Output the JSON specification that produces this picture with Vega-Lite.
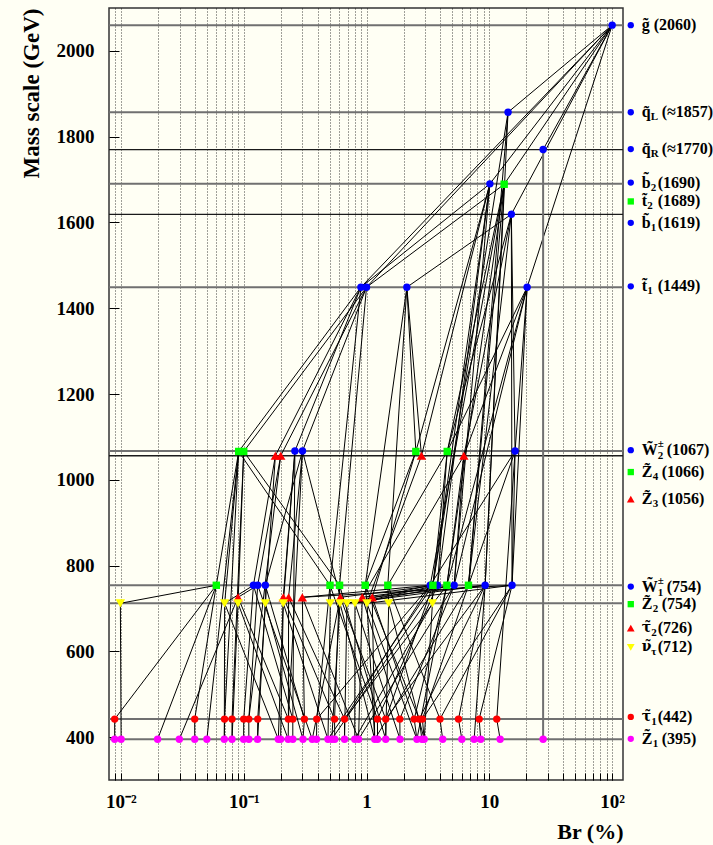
{
  "$schema": "https://vega.github.io/schema/vega-lite/v6.json",
  "width": 514,
  "height": 772,
  "autosize": "none",
  "padding": {"left": 109, "top": 8, "right": 90, "bottom": 65},
  "background": "#fffff4",
  "config": {
    "view": {"stroke": "#333333", "strokeWidth": 1.5},
    "font": "Liberation Serif"
  },
  "datasets": {
    "levels": [
      {"m": 2060}, {"m": 1857}, {"m": 1770}, {"m": 1690}, {"m": 1619}, {"m": 1449},
      {"m": 1067}, {"m": 1056}, {"m": 754}, {"m": 712}, {"m": 442}, {"m": 395}
    ],
    "pts": [
      {"p": "g", "br": 100, "m": 2060},
      {"p": "qL", "br": 14.2, "m": 1857},
      {"p": "qR", "br": 27.4, "m": 1770},
      {"p": "b2", "br": 10.1, "m": 1690},
      {"p": "t2", "br": 13.2, "m": 1689},
      {"p": "b1", "br": 15.1, "m": 1619},
      {"p": "t1", "br": 0.90, "m": 1449},
      {"p": "t1", "br": 1.0, "m": 1449},
      {"p": "t1", "br": 2.13, "m": 1449},
      {"p": "t1", "br": 20.3, "m": 1449},
      {"p": "W2", "br": 0.261, "m": 1067},
      {"p": "W2", "br": 0.301, "m": 1067},
      {"p": "W2", "br": 16.2, "m": 1067},
      {"p": "Z4", "br": 0.091, "m": 1066},
      {"p": "Z4", "br": 0.100, "m": 1066},
      {"p": "Z4", "br": 2.52, "m": 1066},
      {"p": "Z4", "br": 4.54, "m": 1066},
      {"p": "Z3", "br": 0.181, "m": 1056},
      {"p": "Z3", "br": 0.200, "m": 1056},
      {"p": "Z3", "br": 2.80, "m": 1056},
      {"p": "Z3", "br": 6.20, "m": 1056},
      {"p": "W1", "br": 0.120, "m": 754},
      {"p": "W1", "br": 0.130, "m": 754},
      {"p": "W1", "br": 0.150, "m": 754},
      {"p": "W1", "br": 3.30, "m": 754},
      {"p": "W1", "br": 3.78, "m": 754},
      {"p": "W1", "br": 5.17, "m": 754},
      {"p": "W1", "br": 9.24, "m": 754},
      {"p": "W1", "br": 15.3, "m": 754},
      {"p": "Z2", "br": 0.0598, "m": 754},
      {"p": "Z2", "br": 0.504, "m": 754},
      {"p": "Z2", "br": 0.603, "m": 754},
      {"p": "Z2", "br": 0.976, "m": 754},
      {"p": "Z2", "br": 1.49, "m": 754},
      {"p": "Z2", "br": 3.47, "m": 754},
      {"p": "Z2", "br": 4.51, "m": 754},
      {"p": "Z2", "br": 6.76, "m": 754},
      {"p": "tau2", "br": 0.0899, "m": 726},
      {"p": "tau2", "br": 0.210, "m": 726},
      {"p": "tau2", "br": 0.232, "m": 726},
      {"p": "tau2", "br": 0.300, "m": 726},
      {"p": "tau2", "br": 0.611, "m": 726},
      {"p": "tau2", "br": 0.923, "m": 726},
      {"p": "tau2", "br": 1.113, "m": 726},
      {"p": "nutau", "br": 0.0099, "m": 712},
      {"p": "nutau", "br": 0.0699, "m": 712},
      {"p": "nutau", "br": 0.0899, "m": 712},
      {"p": "nutau", "br": 0.150, "m": 712},
      {"p": "nutau", "br": 0.210, "m": 712},
      {"p": "nutau", "br": 0.507, "m": 712},
      {"p": "nutau", "br": 0.608, "m": 712},
      {"p": "nutau", "br": 0.693, "m": 712},
      {"p": "nutau", "br": 0.805, "m": 712},
      {"p": "nutau", "br": 1.008, "m": 712},
      {"p": "nutau", "br": 1.516, "m": 712},
      {"p": "nutau", "br": 3.44, "m": 712},
      {"p": "tau1", "br": 0.0089, "m": 442},
      {"p": "tau1", "br": 0.0399, "m": 442},
      {"p": "tau1", "br": 0.0698, "m": 442},
      {"p": "tau1", "br": 0.0803, "m": 442},
      {"p": "tau1", "br": 0.100, "m": 442},
      {"p": "tau1", "br": 0.110, "m": 442},
      {"p": "tau1", "br": 0.130, "m": 442},
      {"p": "tau1", "br": 0.231, "m": 442},
      {"p": "tau1", "br": 0.251, "m": 442},
      {"p": "tau1", "br": 0.312, "m": 442},
      {"p": "tau1", "br": 0.393, "m": 442},
      {"p": "tau1", "br": 0.549, "m": 442},
      {"p": "tau1", "br": 0.662, "m": 442},
      {"p": "tau1", "br": 1.227, "m": 442},
      {"p": "tau1", "br": 1.433, "m": 442},
      {"p": "tau1", "br": 1.866, "m": 442},
      {"p": "tau1", "br": 2.444, "m": 442},
      {"p": "tau1", "br": 2.685, "m": 442},
      {"p": "tau1", "br": 2.85, "m": 442},
      {"p": "tau1", "br": 3.963, "m": 442},
      {"p": "tau1", "br": 5.607, "m": 442},
      {"p": "tau1", "br": 8.26, "m": 442},
      {"p": "tau1", "br": 11.49, "m": 442},
      {"p": "Z1", "br": 0.0089, "m": 395},
      {"p": "Z1", "br": 0.01004, "m": 395},
      {"p": "Z1", "br": 0.0199, "m": 395},
      {"p": "Z1", "br": 0.0299, "m": 395},
      {"p": "Z1", "br": 0.0399, "m": 395},
      {"p": "Z1", "br": 0.0501, "m": 395},
      {"p": "Z1", "br": 0.0695, "m": 395},
      {"p": "Z1", "br": 0.0803, "m": 395},
      {"p": "Z1", "br": 0.0998, "m": 395},
      {"p": "Z1", "br": 0.1101, "m": 395},
      {"p": "Z1", "br": 0.1297, "m": 395},
      {"p": "Z1", "br": 0.1913, "m": 395},
      {"p": "Z1", "br": 0.1996, "m": 395},
      {"p": "Z1", "br": 0.2303, "m": 395},
      {"p": "Z1", "br": 0.2510, "m": 395},
      {"p": "Z1", "br": 0.3038, "m": 395},
      {"p": "Z1", "br": 0.3616, "m": 395},
      {"p": "Z1", "br": 0.3918, "m": 395},
      {"p": "Z1", "br": 0.4853, "m": 395},
      {"p": "Z1", "br": 0.521, "m": 395},
      {"p": "Z1", "br": 0.551, "m": 395},
      {"p": "Z1", "br": 0.662, "m": 395},
      {"p": "Z1", "br": 0.8017, "m": 395},
      {"p": "Z1", "br": 0.861, "m": 395},
      {"p": "Z1", "br": 1.166, "m": 395},
      {"p": "Z1", "br": 1.229, "m": 395},
      {"p": "Z1", "br": 1.433, "m": 395},
      {"p": "Z1", "br": 1.874, "m": 395},
      {"p": "Z1", "br": 2.571, "m": 395},
      {"p": "Z1", "br": 2.824, "m": 395},
      {"p": "Z1", "br": 2.948, "m": 395},
      {"p": "Z1", "br": 4.169, "m": 395},
      {"p": "Z1", "br": 5.973, "m": 395},
      {"p": "Z1", "br": 7.52, "m": 395},
      {"p": "Z1", "br": 8.50, "m": 395},
      {"p": "Z1", "br": 12.24, "m": 395},
      {"p": "Z1", "br": 27.4, "m": 395}
    ],
    "links": [
      {"a": 100, "am": 2060, "b": 14.2, "bm": 1857},
      {"a": 100, "am": 2060, "b": 27.4, "bm": 1770},
      {"a": 100, "am": 2060, "b": 10.1, "bm": 1690},
      {"a": 100, "am": 2060, "b": 13.2, "bm": 1689},
      {"a": 100, "am": 2060, "b": 15.1, "bm": 1619},
      {"a": 100, "am": 2060, "b": 20.3, "bm": 1449},
      {"a": 100, "am": 2060, "b": 1.0, "bm": 1449},
      {"a": 100, "am": 2060, "b": 0.90, "bm": 1449},
      {"a": 10.1, "am": 1690, "b": 0.90, "bm": 1449},
      {"a": 13.2, "am": 1689, "b": 1.0, "bm": 1449},
      {"a": 15.1, "am": 1619, "b": 2.13, "bm": 1449},
      {"a": 0.90, "am": 1449, "b": 0.091, "bm": 1066},
      {"a": 0.90, "am": 1449, "b": 0.181, "bm": 1056},
      {"a": 0.90, "am": 1449, "b": 0.261, "bm": 1067},
      {"a": 1.0, "am": 1449, "b": 0.100, "bm": 1066},
      {"a": 1.0, "am": 1449, "b": 0.200, "bm": 1056},
      {"a": 1.0, "am": 1449, "b": 0.301, "bm": 1067},
      {"a": 2.13, "am": 1449, "b": 2.52, "bm": 1066},
      {"a": 2.13, "am": 1449, "b": 2.80, "bm": 1056},
      {"a": 20.3, "am": 1449, "b": 16.2, "bm": 1067},
      {"a": 20.3, "am": 1449, "b": 4.54, "bm": 1066},
      {"a": 20.3, "am": 1449, "b": 6.20, "bm": 1056},
      {"a": 13.2, "am": 1689, "b": 4.54, "bm": 1066},
      {"a": 15.1, "am": 1619, "b": 6.20, "bm": 1056},
      {"a": 10.1, "am": 1690, "b": 2.52, "bm": 1066},
      {"a": 10.1, "am": 1690, "b": 2.80, "bm": 1056},
      {"a": 15.1, "am": 1619, "b": 16.2, "bm": 1067},
      {"a": 15.1, "am": 1619, "b": 4.54, "bm": 1066},
      {"a": 0.181, "am": 1056, "b": 0.120, "bm": 754},
      {"a": 0.200, "am": 1056, "b": 0.130, "bm": 754},
      {"a": 0.301, "am": 1067, "b": 0.150, "bm": 754},
      {"a": 13.2, "am": 1689, "b": 3.30, "bm": 754},
      {"a": 10.1, "am": 1690, "b": 3.78, "bm": 754},
      {"a": 6.20, "am": 1056, "b": 5.17, "bm": 754},
      {"a": 14.2, "am": 1857, "b": 9.24, "bm": 754},
      {"a": 16.2, "am": 1067, "b": 15.3, "bm": 754},
      {"a": 15.1, "am": 1619, "b": 15.3, "bm": 754},
      {"a": 10.1, "am": 1690, "b": 5.17, "bm": 754},
      {"a": 13.2, "am": 1689, "b": 9.24, "bm": 754},
      {"a": 20.3, "am": 1449, "b": 5.17, "bm": 754},
      {"a": 20.3, "am": 1449, "b": 15.3, "bm": 754},
      {"a": 16.2, "am": 1067, "b": 3.30, "bm": 754},
      {"a": 4.54, "am": 1066, "b": 3.78, "bm": 754},
      {"a": 0.091, "am": 1066, "b": 0.0598, "bm": 754},
      {"a": 0.90, "am": 1449, "b": 0.504, "bm": 754},
      {"a": 1.0, "am": 1449, "b": 0.603, "bm": 754},
      {"a": 2.13, "am": 1449, "b": 0.976, "bm": 754},
      {"a": 2.13, "am": 1449, "b": 1.49, "bm": 754},
      {"a": 14.2, "am": 1857, "b": 3.47, "bm": 754},
      {"a": 20.3, "am": 1449, "b": 4.51, "bm": 754},
      {"a": 15.1, "am": 1619, "b": 6.76, "bm": 754},
      {"a": 13.2, "am": 1689, "b": 4.51, "bm": 754},
      {"a": 13.2, "am": 1689, "b": 6.76, "bm": 754},
      {"a": 10.1, "am": 1690, "b": 3.47, "bm": 754},
      {"a": 14.2, "am": 1857, "b": 6.76, "bm": 754},
      {"a": 0.091, "am": 1066, "b": 0.504, "bm": 754},
      {"a": 0.100, "am": 1066, "b": 0.603, "bm": 754},
      {"a": 2.52, "am": 1066, "b": 0.976, "bm": 754},
      {"a": 6.20, "am": 1056, "b": 1.49, "bm": 754},
      {"a": 4.54, "am": 1066, "b": 3.47, "bm": 754},
      {"a": 6.20, "am": 1056, "b": 4.51, "bm": 754},
      {"a": 16.2, "am": 1067, "b": 6.76, "bm": 754},
      {"a": 0.130, "am": 754, "b": 0.0899, "bm": 726},
      {"a": 0.261, "am": 1067, "b": 0.210, "bm": 726},
      {"a": 0.301, "am": 1067, "b": 0.232, "bm": 726},
      {"a": 3.30, "am": 754, "b": 0.300, "bm": 726},
      {"a": 3.78, "am": 754, "b": 0.611, "bm": 726},
      {"a": 5.17, "am": 754, "b": 0.923, "bm": 726},
      {"a": 9.24, "am": 754, "b": 1.113, "bm": 726},
      {"a": 0.301, "am": 1067, "b": 0.611, "bm": 726},
      {"a": 4.54, "am": 1066, "b": 0.923, "bm": 726},
      {"a": 2.52, "am": 1066, "b": 1.113, "bm": 726},
      {"a": 15.3, "am": 754, "b": 0.300, "bm": 726},
      {"a": 0.0598, "am": 754, "b": 0.0099, "bm": 712},
      {"a": 0.120, "am": 754, "b": 0.0699, "bm": 712},
      {"a": 0.100, "am": 1066, "b": 0.0899, "bm": 712},
      {"a": 0.150, "am": 754, "b": 0.150, "bm": 712},
      {"a": 0.261, "am": 1067, "b": 0.210, "bm": 712},
      {"a": 0.504, "am": 754, "b": 0.507, "bm": 712},
      {"a": 0.603, "am": 754, "b": 0.608, "bm": 712},
      {"a": 3.30, "am": 754, "b": 0.693, "bm": 712},
      {"a": 3.78, "am": 754, "b": 0.805, "bm": 712},
      {"a": 0.976, "am": 754, "b": 1.008, "bm": 712},
      {"a": 1.49, "am": 754, "b": 1.516, "bm": 712},
      {"a": 3.47, "am": 754, "b": 3.44, "bm": 712},
      {"a": 9.24, "am": 754, "b": 0.693, "bm": 712},
      {"a": 15.3, "am": 754, "b": 1.008, "bm": 712},
      {"a": 5.17, "am": 754, "b": 0.805, "bm": 712},
      {"a": 2.80, "am": 1056, "b": 1.008, "bm": 712},
      {"a": 0.091, "am": 1066, "b": 0.0699, "bm": 712},
      {"a": 0.0598, "am": 754, "b": 0.0089, "bm": 442},
      {"a": 0.0598, "am": 754, "b": 0.0399, "bm": 442},
      {"a": 0.091, "am": 1066, "b": 0.0698, "bm": 442},
      {"a": 0.100, "am": 1066, "b": 0.0803, "bm": 442},
      {"a": 0.120, "am": 754, "b": 0.100, "bm": 442},
      {"a": 0.130, "am": 754, "b": 0.110, "bm": 442},
      {"a": 0.181, "am": 1056, "b": 0.130, "bm": 442},
      {"a": 0.232, "am": 726, "b": 0.231, "bm": 442},
      {"a": 0.261, "am": 1067, "b": 0.251, "bm": 442},
      {"a": 0.300, "am": 726, "b": 0.312, "bm": 442},
      {"a": 0.504, "am": 754, "b": 0.393, "bm": 442},
      {"a": 0.603, "am": 754, "b": 0.549, "bm": 442},
      {"a": 3.30, "am": 754, "b": 0.662, "bm": 442},
      {"a": 3.78, "am": 754, "b": 1.227, "bm": 442},
      {"a": 3.47, "am": 754, "b": 1.433, "bm": 442},
      {"a": 5.17, "am": 754, "b": 1.866, "bm": 442},
      {"a": 4.51, "am": 754, "b": 2.444, "bm": 442},
      {"a": 9.24, "am": 754, "b": 2.685, "bm": 442},
      {"a": 6.76, "am": 754, "b": 2.85, "bm": 442},
      {"a": 15.3, "am": 754, "b": 3.963, "bm": 442},
      {"a": 9.24, "am": 754, "b": 5.607, "bm": 442},
      {"a": 15.3, "am": 754, "b": 8.26, "bm": 442},
      {"a": 16.2, "am": 1067, "b": 11.49, "bm": 442},
      {"a": 0.0899, "am": 726, "b": 0.231, "bm": 442},
      {"a": 0.210, "am": 726, "b": 0.549, "bm": 442},
      {"a": 0.232, "am": 726, "b": 0.662, "bm": 442},
      {"a": 0.611, "am": 726, "b": 1.433, "bm": 442},
      {"a": 0.923, "am": 726, "b": 1.866, "bm": 442},
      {"a": 1.113, "am": 726, "b": 2.444, "bm": 442},
      {"a": 0.120, "am": 754, "b": 0.251, "bm": 442},
      {"a": 0.150, "am": 754, "b": 0.312, "bm": 442},
      {"a": 0.504, "am": 754, "b": 1.227, "bm": 442},
      {"a": 0.976, "am": 754, "b": 2.685, "bm": 442},
      {"a": 1.49, "am": 754, "b": 3.963, "bm": 442},
      {"a": 3.30, "am": 754, "b": 0.393, "bm": 442},
      {"a": 15.3, "am": 754, "b": 2.85, "bm": 442},
      {"a": 4.51, "am": 754, "b": 0.662, "bm": 442},
      {"a": 9.24, "am": 754, "b": 1.433, "bm": 442},
      {"a": 0.200, "am": 1056, "b": 0.110, "bm": 442},
      {"a": 0.301, "am": 1067, "b": 0.231, "bm": 442},
      {"a": 0.0089, "am": 442, "b": 0.0089, "bm": 395},
      {"a": 0.0399, "am": 442, "b": 0.0399, "bm": 395},
      {"a": 0.0698, "am": 442, "b": 0.0695, "bm": 395},
      {"a": 0.0803, "am": 442, "b": 0.0803, "bm": 395},
      {"a": 0.100, "am": 442, "b": 0.0998, "bm": 395},
      {"a": 0.110, "am": 442, "b": 0.1101, "bm": 395},
      {"a": 0.130, "am": 442, "b": 0.1297, "bm": 395},
      {"a": 0.231, "am": 442, "b": 0.2303, "bm": 395},
      {"a": 0.251, "am": 442, "b": 0.2510, "bm": 395},
      {"a": 0.312, "am": 442, "b": 0.3038, "bm": 395},
      {"a": 0.393, "am": 442, "b": 0.3918, "bm": 395},
      {"a": 0.549, "am": 442, "b": 0.551, "bm": 395},
      {"a": 0.662, "am": 442, "b": 0.662, "bm": 395},
      {"a": 1.227, "am": 442, "b": 1.229, "bm": 395},
      {"a": 1.433, "am": 442, "b": 1.433, "bm": 395},
      {"a": 1.866, "am": 442, "b": 1.874, "bm": 395},
      {"a": 2.444, "am": 442, "b": 2.571, "bm": 395},
      {"a": 2.685, "am": 442, "b": 2.824, "bm": 395},
      {"a": 2.85, "am": 442, "b": 2.948, "bm": 395},
      {"a": 3.963, "am": 442, "b": 4.169, "bm": 395},
      {"a": 5.607, "am": 442, "b": 5.973, "bm": 395},
      {"a": 8.26, "am": 442, "b": 8.50, "bm": 395},
      {"a": 11.49, "am": 442, "b": 12.24, "bm": 395},
      {"a": 0.0099, "am": 712, "b": 0.01004, "bm": 395},
      {"a": 0.0598, "am": 754, "b": 0.0199, "bm": 395},
      {"a": 0.0899, "am": 726, "b": 0.0299, "bm": 395},
      {"a": 0.091, "am": 1066, "b": 0.0501, "bm": 395},
      {"a": 0.0699, "am": 712, "b": 0.0695, "bm": 395},
      {"a": 0.210, "am": 726, "b": 0.1913, "bm": 395},
      {"a": 0.210, "am": 712, "b": 0.1996, "bm": 395},
      {"a": 0.611, "am": 726, "b": 0.3616, "bm": 395},
      {"a": 0.507, "am": 712, "b": 0.4853, "bm": 395},
      {"a": 0.608, "am": 712, "b": 0.521, "bm": 395},
      {"a": 0.805, "am": 712, "b": 0.8017, "bm": 395},
      {"a": 0.923, "am": 726, "b": 0.861, "bm": 395},
      {"a": 1.113, "am": 726, "b": 1.166, "bm": 395},
      {"a": 9.24, "am": 754, "b": 7.52, "bm": 395},
      {"a": 27.4, "am": 1770, "b": 27.4, "bm": 395},
      {"a": 0.0899, "am": 712, "b": 0.0803, "bm": 395},
      {"a": 0.150, "am": 712, "b": 0.1297, "bm": 395},
      {"a": 0.693, "am": 712, "b": 0.662, "bm": 395},
      {"a": 1.008, "am": 712, "b": 1.166, "bm": 395},
      {"a": 1.516, "am": 712, "b": 1.433, "bm": 395},
      {"a": 3.44, "am": 712, "b": 2.948, "bm": 395},
      {"a": 0.0699, "am": 712, "b": 0.1913, "bm": 395},
      {"a": 0.0899, "am": 712, "b": 0.2303, "bm": 395},
      {"a": 0.150, "am": 712, "b": 0.3038, "bm": 395},
      {"a": 0.210, "am": 712, "b": 0.4853, "bm": 395},
      {"a": 0.608, "am": 712, "b": 1.166, "bm": 395},
      {"a": 0.805, "am": 712, "b": 1.874, "bm": 395},
      {"a": 1.008, "am": 712, "b": 2.571, "bm": 395},
      {"a": 1.516, "am": 712, "b": 2.948, "bm": 395},
      {"a": 0.300, "am": 726, "b": 0.861, "bm": 395},
      {"a": 0.130, "am": 754, "b": 0.3616, "bm": 395},
      {"a": 0.603, "am": 754, "b": 1.433, "bm": 395},
      {"a": 3.78, "am": 754, "b": 0.521, "bm": 395},
      {"a": 3.47, "am": 754, "b": 0.4853, "bm": 395},
      {"a": 6.76, "am": 754, "b": 1.166, "bm": 395},
      {"a": 4.51, "am": 754, "b": 2.571, "bm": 395},
      {"a": 5.17, "am": 754, "b": 0.861, "bm": 395},
      {"a": 3.44, "am": 712, "b": 0.8017, "bm": 395}
    ],
    "labels": [
      {"p": "g", "lm": 2060, "s": "g\u0303", "mt": "(2060)"},
      {"p": "qL", "lm": 1857, "s": "q\u0303", "sub": "L", "mt": "(\u22481857)"},
      {"p": "qR", "lm": 1771, "s": "q\u0303", "sub": "R", "mt": "(\u22481770)"},
      {"p": "b2", "lm": 1693, "s": "b\u0303", "sub": "2", "mt": "(1690)"},
      {"p": "t2", "lm": 1649, "s": "t\u0303", "sub": "2", "mt": "(1689)"},
      {"p": "b1", "lm": 1599, "s": "b\u0303", "sub": "1", "mt": "(1619)"},
      {"p": "t1", "lm": 1451, "s": "t\u0303", "sub": "1", "mt": "(1449)"},
      {"p": "W2", "lm": 1069, "s": "W\u0303", "sub": "2", "sup": "\u00b1", "mt": "(1067)"},
      {"p": "Z4", "lm": 1018, "s": "Z\u0303", "sub": "4", "mt": "(1066)"},
      {"p": "Z3", "lm": 955, "s": "Z\u0303", "sub": "3", "mt": "(1056)"},
      {"p": "W1", "lm": 751, "s": "W\u0303", "sub": "1", "sup": "\u00b1", "mt": "(754)"},
      {"p": "Z2", "lm": 710, "s": "Z\u0303", "sub": "2", "mt": "(754)"},
      {"p": "tau2", "lm": 654, "s": "\u03c4\u0303", "sub": "2", "mt": "(726)"},
      {"p": "nutau", "lm": 609, "s": "\u03bd\u0303", "sub": "\u03c4", "mt": "(712)"},
      {"p": "tau1", "lm": 447, "s": "\u03c4\u0303", "sub": "1", "mt": "(442)"},
      {"p": "Z1", "lm": 396, "s": "Z\u0303", "sub": "1", "mt": "(395)"}
    ]
  },
  "layer": [
    {
      "data": {"name": "levels"},
      "mark": {"type": "rule"},
      "encoding": {
        "y": {
          "field": "m", "type": "quantitative",
          "scale": {"domain": [300, 2100], "nice": false, "zero": false},
          "axis": {
            "values": [400, 600, 800, 1000, 1200, 1400, 1600, 1800, 2000],
            "format": "d",
            "grid": false,
            "domain": false,
            "tickColor": "#000000",
            "tickWidth": 1,
            "tickSize": -10,
            "labelFont": "Liberation Serif",
            "labelFontWeight": "bold",
            "labelFontSize": 19,
            "labelColor": "#000000",
            "labelPadding": 25,
            "title": "Mass  scale  (GeV)",
            "titleFont": "Liberation Serif",
            "titleFontWeight": "bold",
            "titleFontSize": 23,
            "titleColor": "#000000",
            "titleAnchor": "end",
            "titlePadding": 13
          }
        },
        "color": {"condition": {"test": "datum.m == 1770 || datum.m == 1619 || datum.m == 1056", "value": "#1a1a1a"}, "value": "#707070"},
        "strokeWidth": {"condition": {"test": "datum.m == 1770 || datum.m == 1619 || datum.m == 1056", "value": 1.3}, "value": 2}
      }
    },
    {
      "data": {"name": "links"},
      "mark": {"type": "rule"},
      "encoding": {
        "x": {
          "field": "a", "type": "quantitative",
          "scale": {"type": "log", "domain": [0.008, 122.5], "nice": false},
          "axis": {
            "values": [0.009, 0.01, 0.02, 0.03, 0.04, 0.05, 0.06, 0.07, 0.08, 0.09, 0.1, 0.2, 0.3, 0.4, 0.5, 0.6, 0.7, 0.8, 0.9, 1, 2, 3, 4, 5, 6, 7, 8, 9, 10, 20, 30, 40, 50, 60, 70, 80, 90, 100],
            "labelExpr": "datum.value == 0.01 ? '10\u207b\u00b2' : datum.value == 0.1 ? '10\u207b\u00b9' : datum.value == 1 ? '1' : datum.value == 10 ? '10' : datum.value == 100 ? '10\u00b2' : ''",
            "grid": true,
            "gridColor": "#000000",
            "gridDash": [1, 2],
            "gridWidth": 1,
            "gridOpacity": 0.75,
            "domain": false,
            "tickColor": "#000000",
            "tickWidth": 1,
            "tickSize": -7,
            "labelFont": "Liberation Serif",
            "labelFontWeight": "bold",
            "labelFontSize": 19,
            "labelColor": "#000000",
            "labelPadding": 19,
            "labelOverlap": false,
            "labelFlush": false,
            "title": "Br  (%)",
            "titleFont": "Liberation Serif",
            "titleFontWeight": "bold",
            "titleFontSize": 22,
            "titleColor": "#000000",
            "titleAnchor": "end",
            "titlePadding": 10
          }
        },
        "y": {"field": "am", "type": "quantitative"},
        "x2": {"field": "b"},
        "y2": {"field": "bm"},
        "color": {"condition": {"test": "datum.am == 1770", "value": "#707070"}, "value": "#000000"},
        "strokeWidth": {"condition": {"test": "datum.am == 1770", "value": 2}, "value": 1}
      }
    },
    {
      "data": {"name": "pts"},
      "mark": {"type": "point", "filled": true, "opacity": 1, "strokeWidth": 0},
      "encoding": {
        "x": {"field": "br", "type": "quantitative"},
        "y": {"field": "m", "type": "quantitative"},
        "color": {
          "field": "p", "type": "nominal", "legend": null,
          "scale": {
            "domain": ["g", "qL", "qR", "b2", "t2", "b1", "t1", "W2", "Z4", "Z3", "W1", "Z2", "tau2", "nutau", "tau1", "Z1"],
            "range": ["#0000ff", "#0000ff", "#0000ff", "#0000ff", "#00ff00", "#0000ff", "#0000ff", "#0000ff", "#00ff00", "#ff0000", "#0000ff", "#00ff00", "#ff0000", "#ffff00", "#ff0000", "#ff00ff"]
          }
        },
        "shape": {
          "field": "p", "type": "nominal", "legend": null,
          "scale": {
            "domain": ["g", "qL", "qR", "b2", "t2", "b1", "t1", "W2", "Z4", "Z3", "W1", "Z2", "tau2", "nutau", "tau1", "Z1"],
            "range": ["circle", "circle", "circle", "circle", "square", "circle", "circle", "circle", "square", "triangle-up", "circle", "square", "triangle-up", "triangle-down", "circle", "circle"]
          }
        },
        "size": {"condition": {"test": "datum.p == 'Z3' || datum.p == 'tau2' || datum.p == 'nutau'", "value": 90}, "value": 55}
      }
    },
    {
      "data": {"name": "labels"},
      "mark": {"type": "point", "filled": true, "opacity": 1, "strokeWidth": 0},
      "encoding": {
        "x": {"datum": 141.7, "type": "quantitative"},
        "y": {"field": "lm", "type": "quantitative"},
        "color": {"field": "p", "type": "nominal", "legend": null},
        "shape": {"field": "p", "type": "nominal", "legend": null},
        "size": {"condition": {"test": "datum.p == 'Z3' || datum.p == 'tau2' || datum.p == 'nutau'", "value": 60}, "value": 40}
      }
    },
    {
      "data": {"name": "labels"},
      "transform": [{"filter": "datum.p != 'tau2' && datum.p != 'tau1' && datum.p != 'nutau'"}],
      "mark": {"type": "text", "align": "left", "baseline": "middle", "font": "Liberation Serif", "fontWeight": "bold", "fontSize": 16, "color": "#000000"},
      "encoding": {
        "x": {"datum": 174, "type": "quantitative"},
        "y": {"field": "lm", "type": "quantitative"},
        "text": {"field": "s"}
      }
    },
    {
      "data": {"name": "labels"},
      "transform": [{"filter": "datum.p == 'tau2' || datum.p == 'tau1' || datum.p == 'nutau'"}],
      "mark": {"type": "text", "align": "left", "baseline": "middle", "font": "DejaVu Serif", "fontWeight": "bold", "fontSize": 14, "color": "#000000"},
      "encoding": {
        "x": {"datum": 174, "type": "quantitative"},
        "y": {"field": "lm", "type": "quantitative"},
        "text": {"field": "s"}
      }
    },
    {
      "data": {"name": "labels"},
      "transform": [{"filter": "datum.p == 'qL' || datum.p == 'qR' || datum.p == 'b2' || datum.p == 'b1'"}],
      "mark": {"type": "text", "align": "left", "baseline": "middle", "font": "Liberation Serif", "fontWeight": "bold", "fontSize": 11, "dx": 9, "dy": 5, "color": "#000000"},
      "encoding": {
        "x": {"datum": 174, "type": "quantitative"},
        "y": {"field": "lm", "type": "quantitative"},
        "text": {"field": "sub"}
      }
    },
    {
      "data": {"name": "labels"},
      "transform": [{"filter": "datum.p == 't2' || datum.p == 't1'"}],
      "mark": {"type": "text", "align": "left", "baseline": "middle", "font": "Liberation Serif", "fontWeight": "bold", "fontSize": 11, "dx": 5.5, "dy": 5, "color": "#000000"},
      "encoding": {
        "x": {"datum": 174, "type": "quantitative"},
        "y": {"field": "lm", "type": "quantitative"},
        "text": {"field": "sub"}
      }
    },
    {
      "data": {"name": "labels"},
      "transform": [{"filter": "datum.p == 'tau2' || datum.p == 'tau1' || datum.p == 'nutau'"}],
      "mark": {"type": "text", "align": "left", "baseline": "middle", "font": "Liberation Serif", "fontWeight": "bold", "fontSize": 11, "dx": 9.5, "dy": 5, "color": "#000000"},
      "encoding": {
        "x": {"datum": 174, "type": "quantitative"},
        "y": {"field": "lm", "type": "quantitative"},
        "text": {"field": "sub"}
      }
    },
    {
      "data": {"name": "labels"},
      "transform": [{"filter": "datum.p == 'Z4' || datum.p == 'Z3' || datum.p == 'Z2' || datum.p == 'Z1'"}],
      "mark": {"type": "text", "align": "left", "baseline": "middle", "font": "Liberation Serif", "fontWeight": "bold", "fontSize": 11, "dx": 11, "dy": 5, "color": "#000000"},
      "encoding": {
        "x": {"datum": 174, "type": "quantitative"},
        "y": {"field": "lm", "type": "quantitative"},
        "text": {"field": "sub"}
      }
    },
    {
      "data": {"name": "labels"},
      "transform": [{"filter": "datum.p == 'W2' || datum.p == 'W1'"}],
      "mark": {"type": "text", "align": "left", "baseline": "middle", "font": "Liberation Serif", "fontWeight": "bold", "fontSize": 11, "dx": 16, "dy": 6, "color": "#000000"},
      "encoding": {
        "x": {"datum": 174, "type": "quantitative"},
        "y": {"field": "lm", "type": "quantitative"},
        "text": {"field": "sub"}
      }
    },
    {
      "data": {"name": "labels"},
      "transform": [{"filter": "datum.p == 'W2' || datum.p == 'W1'"}],
      "mark": {"type": "text", "align": "left", "baseline": "middle", "font": "Liberation Serif", "fontWeight": "bold", "fontSize": 11, "dx": 16, "dy": -6, "color": "#000000"},
      "encoding": {
        "x": {"datum": 174, "type": "quantitative"},
        "y": {"field": "lm", "type": "quantitative"},
        "text": {"field": "sup"}
      }
    },
    {
      "data": {"name": "labels"},
      "transform": [{"filter": "datum.p == 'g'"}],
      "mark": {"type": "text", "align": "left", "baseline": "middle", "font": "Liberation Serif", "fontWeight": "bold", "fontSize": 16, "dx": 12, "color": "#000000"},
      "encoding": {
        "x": {"datum": 174, "type": "quantitative"},
        "y": {"field": "lm", "type": "quantitative"},
        "text": {"field": "mt"}
      }
    },
    {
      "data": {"name": "labels"},
      "transform": [{"filter": "datum.p == 'b2' || datum.p == 'b1' || datum.p == 't2' || datum.p == 't1' || datum.p == 'tau2' || datum.p == 'tau1' || datum.p == 'nutau'"}],
      "mark": {"type": "text", "align": "left", "baseline": "middle", "font": "Liberation Serif", "fontWeight": "bold", "fontSize": 16, "dx": 16, "color": "#000000"},
      "encoding": {
        "x": {"datum": 174, "type": "quantitative"},
        "y": {"field": "lm", "type": "quantitative"},
        "text": {"field": "mt"}
      }
    },
    {
      "data": {"name": "labels"},
      "transform": [{"filter": "datum.p == 'qL' || datum.p == 'qR' || datum.p == 'Z4' || datum.p == 'Z3' || datum.p == 'Z2' || datum.p == 'Z1'"}],
      "mark": {"type": "text", "align": "left", "baseline": "middle", "font": "Liberation Serif", "fontWeight": "bold", "fontSize": 16, "dx": 20, "color": "#000000"},
      "encoding": {
        "x": {"datum": 174, "type": "quantitative"},
        "y": {"field": "lm", "type": "quantitative"},
        "text": {"field": "mt"}
      }
    },
    {
      "data": {"name": "labels"},
      "transform": [{"filter": "datum.p == 'W2' || datum.p == 'W1'"}],
      "mark": {"type": "text", "align": "left", "baseline": "middle", "font": "Liberation Serif", "fontWeight": "bold", "fontSize": 16, "dx": 25, "color": "#000000"},
      "encoding": {
        "x": {"datum": 174, "type": "quantitative"},
        "y": {"field": "lm", "type": "quantitative"},
        "text": {"field": "mt"}
      }
    }
  ]
}
